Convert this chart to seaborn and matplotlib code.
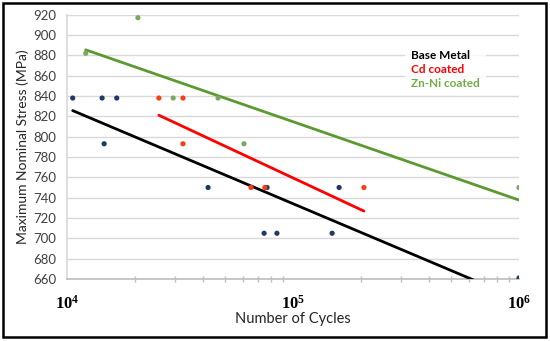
import matplotlib.pyplot as plt
import matplotlib.patches as mpatches
import matplotlib.ticker as mticker
import numpy as np
import pandas as pd
import seaborn as sns

# number of cycles / max nominal stress (MPa)
base_cycles = [10600, 14300, 16600, 14600, 42100, 76800, 160000, 74500, 84900, 149000, 1000000]
base_stress = [838, 838, 838, 793, 750, 750, 750, 705, 705, 705, 661]

cd_cycles = [25500, 32600, 32600, 65200, 75100, 206000]
cd_stress = [838, 838, 793, 750, 750, 750]

znni_cycles = [12100, 20600, 29500, 46600, 60700, 1000000]
znni_stress = [882, 917, 838, 838, 793, 750]

series = ["Base Metal", "Cd coated", "Zn-Ni coated"]
dot_colors = ["#1f3864", "#ff3b10", "#7aa860"]
line_colors = ["#000000", "#ff0000", "#5b9a30"]
text_colors = ["#000000", "#ff0000", "#70ad47"]

df = pd.concat([
    pd.DataFrame({"cycles": base_cycles, "stress": base_stress, "series": series[0]}),
    pd.DataFrame({"cycles": cd_cycles, "stress": cd_stress, "series": series[1]}),
    pd.DataFrame({"cycles": znni_cycles, "stress": znni_stress, "series": series[2]}),
])

sns.set_theme(style="white")
plt.rcParams["font.family"] = ["Lato", "DejaVu Sans"]
plt.rcParams["mathtext.fontset"] = "custom"
plt.rcParams["mathtext.bf"] = "Liberation Serif:bold"
plt.rcParams["mathtext.rm"] = "Liberation Serif"

fig = plt.figure(figsize=(5.5, 3.41), dpi=100)
ax = fig.add_axes([0.1218, 0.1818, 0.8218, 0.7752])

# logarithmic trendlines (linear fit of stress against log10 cycles)
fit_rows = []
for name in series:
    sub = df[df["series"] == name]
    lx = np.log10(sub["cycles"].to_numpy())
    b, a = np.polyfit(lx, sub["stress"].to_numpy(), 1)
    xs = np.linspace(lx.min(), lx.max(), 50)
    fit_rows.append(pd.DataFrame({"cycles": 10 ** xs, "stress": a + b * xs, "series": name}))
fits = pd.concat(fit_rows)

sns.lineplot(data=fits, x="cycles", y="stress", hue="series", palette=line_colors,
             hue_order=series, linewidth=2, legend=False, ax=ax, zorder=3)
sns.scatterplot(data=df, x="cycles", y="stress", hue="series", palette=dot_colors,
                hue_order=series, s=14, edgecolor="none", legend=False, ax=ax, zorder=4)

ax.set_xscale("log")
ax.set_xlim(1e4, 1e6)
ax.set_ylim(660, 920)
ax.set_yticks(np.arange(660, 921, 20))
ax.set_xticks([1e4, 1e5, 1e6])
ax.set_xticklabels([r"$\mathbf{10^{4}}$", r"$\mathbf{10^{5}}$", r"$\mathbf{10^{6}}$"])
ax.xaxis.set_minor_locator(mticker.LogLocator(base=10, subs=np.arange(2, 10)))
ax.xaxis.set_minor_formatter(mticker.NullFormatter())

ax.grid(axis="y", color="#d9d9d9", linewidth=1)
ax.set_axisbelow(True)
for side in ["top", "right"]:
    ax.spines[side].set_visible(False)
ax.spines["left"].set_color("#d9d9d9")
ax.spines["bottom"].set_color("#bfbfbf")

ax.tick_params(axis="y", length=0, labelsize=9.5, labelcolor="#404040", pad=8)
ax.tick_params(axis="x", which="major", direction="inout", length=6, color="#bfbfbf",
               labelsize=12, labelcolor="#000000", pad=8)
ax.tick_params(axis="x", which="minor", direction="inout", length=5, color="#bfbfbf",
               bottom=True)

ax.set_xlabel("Number of Cycles", fontsize=10.5, color="#262626", labelpad=0)
ax.set_ylabel("Maximum Nominal Stress (MPa)", fontsize=10, color="#262626", labelpad=3)

handles = [mpatches.Patch(color="none", label=s) for s in series]
leg = ax.legend(handles=handles, loc="upper left", bbox_to_anchor=(0.735, 0.91),
                handlelength=0, handletextpad=0, labelspacing=0.25, frameon=True,
                facecolor="white", edgecolor="none", fancybox=False, borderpad=0.5,
                labelcolor=text_colors, prop={"weight": "bold", "size": 8.5})
leg.set_zorder(5)

fig.patches.append(mpatches.Rectangle((0.006, 0.012), 0.987, 0.978, transform=fig.transFigure,
                                      fill=False, edgecolor="black", linewidth=1.8))

fig.savefig("out.png", dpi=100)
